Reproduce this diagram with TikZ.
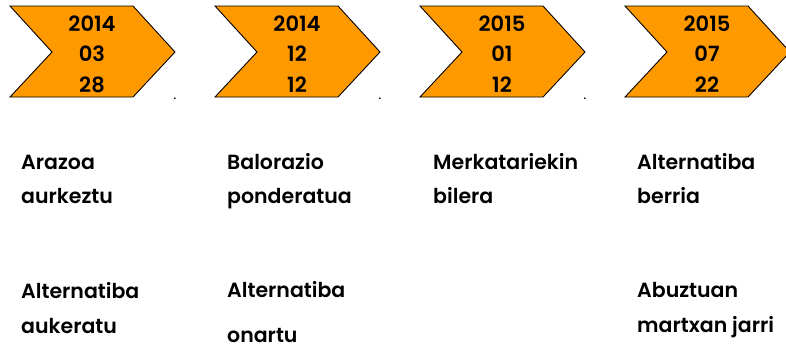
\documentclass[tikz,border=0pt]{standalone}
\usepackage{fontspec}
\setmainfont{Poppins}[UprightFont={* SemiBold},BoldFont={* Bold}]
\definecolor{chevfill}{HTML}{FF9900}
\begin{document}
\begin{tikzpicture}[x=1pt,y=-1pt,
  chev/.style={draw=black,line width=0.9pt,fill=chevfill,line join=miter},
  datetxt/.style={anchor=base,inner sep=0pt,font=\fontsize{21}{21}\selectfont},
  lbl/.style={anchor=base west,inner sep=0pt,font=\fontsize{20.5}{20.5}\selectfont},
  dotmark/.style={anchor=base,inner sep=0pt,font=\fontsize{9}{9}\selectfont\bfseries}]
\useasboundingbox (0,0) rectangle (786,349);
% chevrons
\foreach \i/\x in {1/10,2/215,3/420,4/625}{
  \draw[chev] (\x,6) -- (\x+123,6) -- (\x+165,52) -- (\x+123,97) -- (\x,97) -- (\x+42,52) -- cycle;
}
% dates
\node[datetxt] (y1) at (92,31) {2014};
\node[datetxt] (m1) at (92,61) {03};
\node[datetxt] (d1) at (92,92) {28};
\node[datetxt] (y2) at (297,31) {2014};
\node[datetxt] (m2) at (297,61) {12};
\node[datetxt] (d2) at (297,92) {12};
\node[datetxt] (y3) at (502,31) {2015};
\node[datetxt] (m3) at (502,61) {01};
\node[datetxt] (d3) at (502,92) {12};
\node[datetxt] (y4) at (707,31) {2015};
\node[datetxt] (m4) at (707,61) {07};
\node[datetxt] (d4) at (707,92) {22};
% dots
\node[dotmark] (p1) at (175,99) {.};
\node[dotmark] (p2) at (380,99) {.};
\node[dotmark] (p3) at (585,99) {.};
% labels row 1
\node[lbl] (a1) at (21,169) {Arazoa};
\node[lbl] (a2) at (21,203) {aurkeztu};
\node[lbl] (b1) at (227,169) {Balorazio};
\node[lbl] (b2) at (227,203) {ponderatua};
\node[lbl] (c1) at (433,169) {Merkatariekin};
\node[lbl] (c2) at (433,203) {bilera};
\node[lbl] (e1) at (637,169) {Alternatiba};
\node[lbl] (e2) at (637,203) {berria};
% labels row 2
\node[lbl] (f1) at (21,298) {Alternatiba};
\node[lbl] (f2) at (21,333) {aukeratu};
\node[lbl] (g1) at (227,297) {Alternatiba};
\node[lbl] (g2) at (227,342) {onartu};
\node[lbl] (h1) at (637,297) {Abuztuan};
\node[lbl] (h2) at (637,332) {martxan jarri};
\end{tikzpicture}
\end{document}
